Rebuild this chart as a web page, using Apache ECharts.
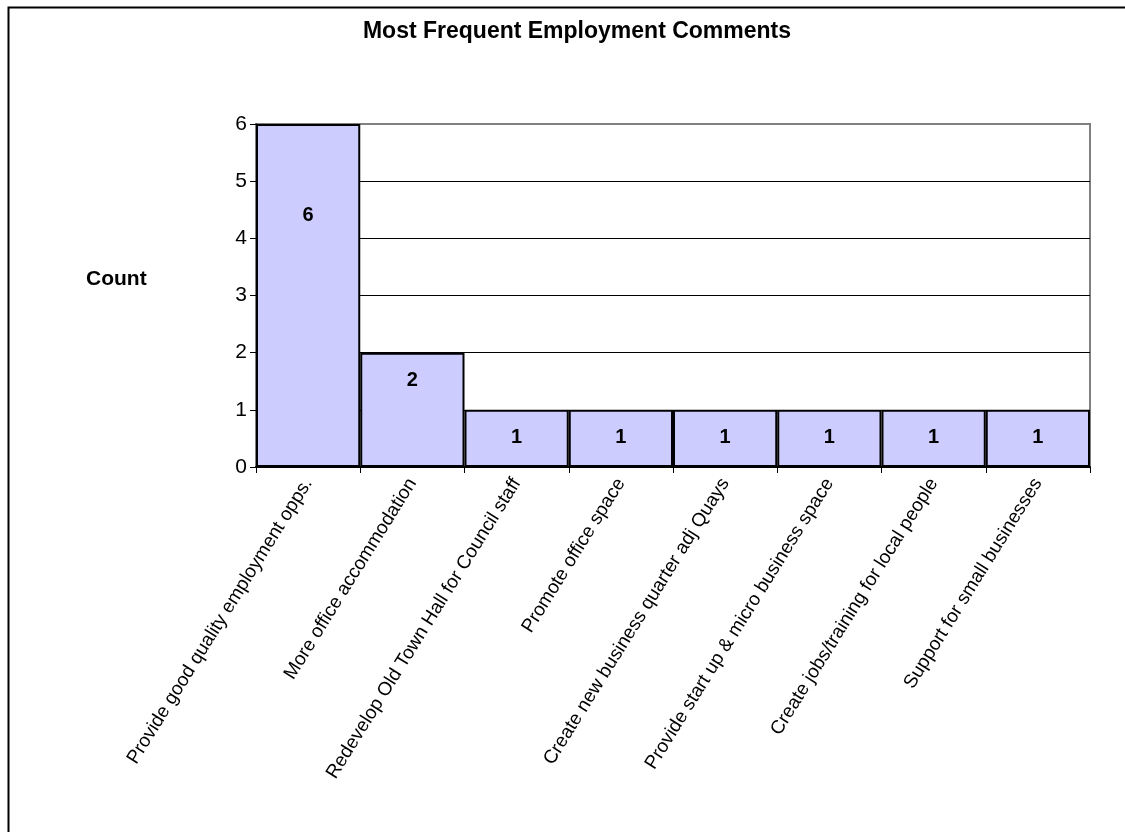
<!DOCTYPE html>
<html><head><meta charset="utf-8">
<script src="https://cdn.jsdelivr.net/npm/echarts@6/dist/echarts.min.js"></script>
<style>html,body{margin:0;padding:0;background:#fff}#c{width:1125px;height:832px}</style>
</head><body><div id="c"></div>
<script>
const categories = [
  "Provide good quality employment opps.",
  "More office accommodation",
  "Redevelop Old Town Hall for Council staff",
  "Promote office space",
  "Create new business quarter adj Quays",
  "Provide start up & micro business space",
  "Create jobs/training for local people",
  "Support for small businesses"
];
const counts = [6, 2, 1, 1, 1, 1, 1, 1];
const yTicks = [0, 1, 2, 3, 4, 5, 6];

const chart = echarts.init(document.getElementById('c'), null, {renderer: 'canvas'});
const F = '"Liberation Sans", Arial, sans-serif';
chart.setOption({
  animation: false,
  backgroundColor: '#fff',
  title: {
    text: 'Most Frequent Employment Comments',
    left: 572, top: 15, textAlign: 'center',
    textStyle: {fontFamily: F, fontSize: 23, fontWeight: 'bold', color: '#000'}
  },
  graphic: [
    {type: 'polyline', shape: {points: [[8.5, 832], [8.5, 7.5], [1125, 7.5]]},
     style: {stroke: '#000', lineWidth: 2, fill: null}, silent: true},
    {type: 'text', left: 86, top: 269,
     style: {text: 'Count', fontFamily: F, fontSize: 21, fontWeight: 'bold', fill: '#000'}}
  ],
  grid: {left: 256, right: 35, top: 124, bottom: 365, show: true,
         borderColor: '#808080', borderWidth: 2, backgroundColor: 'transparent'},
  xAxis: {
    type: 'category', data: categories,
    axisLine: {lineStyle: {color: '#000', width: 2}},
    axisTick: {show: true, alignWithLabel: false, length: 6, lineStyle: {color: '#000', width: 1}},
    axisLabel: {rotate: 58, interval: 0, fontFamily: F, fontSize: 19, color: '#000', margin: 13}
  },
  yAxis: {
    type: 'value', min: yTicks[0], max: yTicks[yTicks.length - 1], interval: 1,
    axisLine: {show: true, lineStyle: {color: '#000', width: 1}},
    axisTick: {show: true, length: 6, lineStyle: {color: '#000'}},
    axisLabel: {fontFamily: F, fontSize: 21, color: '#000', margin: 9},
    splitLine: {show: true, lineStyle: {color: ['#000', '#000', '#000', '#000', '#000', '#000', 'transparent'], width: 1}}
  },
  series: [{
    type: 'bar',
    data: counts.map((v, i) => ({value: v, label: {offset: [0, i === 0 ? 63 : 0]}})),
    barCategoryGap: '0%',
    itemStyle: {color: '#CCCCFF', borderColor: '#000', borderWidth: 2},
    label: {show: true, position: 'insideTop', distance: 18, fontFamily: F,
            fontSize: 20, fontWeight: 'bold', color: '#000'}
  }]
});
</script></body></html>
